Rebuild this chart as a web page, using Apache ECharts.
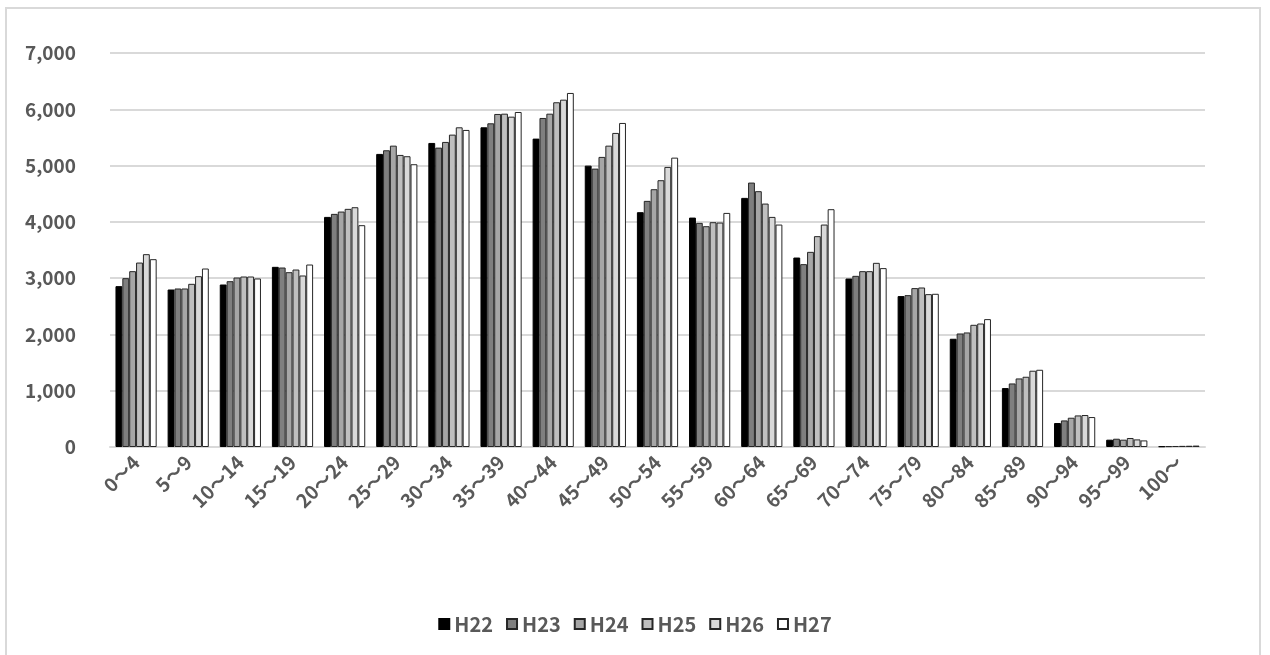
<!DOCTYPE html>
<html>
<head>
<meta charset="utf-8">
<script src="https://cdn.jsdelivr.net/npm/echarts@6/dist/echarts.min.js"></script>
<style>
html,body{margin:0;padding:0;background:#fff;}
#frame{position:absolute;left:5px;top:7px;width:1256px;height:700px;border:2px solid #d9d9d9;box-sizing:border-box;}
#main{position:absolute;left:0;top:0;width:1270px;height:655px;}
</style>
</head>
<body>
<div id="frame"></div>
<div id="main"></div>
<script>
const categories = ['0～4','5～9','10～14','15～19','20～24','25～29','30～34','35～39','40～44','45～49','50～54','55～59','60～64','65～69','70～74','75～79','80～84','85～89','90～94','95～99','100～'];
const seriesNames = ['H22','H23','H24','H25','H26','H27'];
const H22 = [2858,2798,2887,3201,4088,5207,5402,5680,5479,4999,4172,4076,4426,3366,2993,2681,1923,1047,426,130,12];
const H23 = [3000,2816,2946,3189,4142,5272,5319,5751,5846,4946,4373,3982,4698,3249,3041,2698,2017,1129,472,147,15];
const H24 = [3124,2816,3011,3106,4183,5354,5420,5917,5922,5154,4580,3923,4545,3467,3124,2823,2035,1218,520,130,18];
const H25 = [3277,2899,3029,3153,4231,5189,5550,5922,6125,5354,4740,3994,4325,3746,3124,2834,2171,1248,561,160,20];
const H26 = [3426,3035,3029,3047,4260,5166,5680,5869,6171,5580,4976,3988,4088,3952,3272,2716,2194,1355,568,135,22];
const H27 = [3337,3171,2994,3242,3941,5024,5633,5952,6290,5757,5141,4159,3952,4225,3178,2722,2272,1372,532,117,25];
const yTicks = [0,1000,2000,3000,4000,5000,6000,7000];

const allData = [H22,H23,H24,H25,H26,H27];
const colors = ['#000000','#7f7f7f','#a6a6a6','#bfbfbf','#d9d9d9','#ffffff'];
const FONT = '"Noto Sans CJK JP", "Noto Sans", sans-serif';

const chart = echarts.init(document.getElementById('main'));
chart.setOption({
  animation:false,
  backgroundColor:'transparent',
  grid:{left:110,right:65,top:53,bottom:208,containLabel:false},
  legend:{
    bottom:16,left:'center',
    itemWidth:10,itemHeight:10,itemGap:13,
    icon:'rect',
    textStyle:{color:'#595959',fontSize:20,fontWeight:'bold',fontFamily:FONT},
    data:seriesNames
  },
  xAxis:{
    type:'category',data:categories,
    axisLine:{lineStyle:{color:'#d9d9d9',width:2}},
    axisTick:{show:false},
    axisLabel:{rotate:45,interval:0,color:'#595959',fontSize:19,fontWeight:'bold',fontFamily:FONT,margin:12}
  },
  yAxis:{
    type:'value',min:yTicks[0],max:yTicks[yTicks.length-1],interval:1000,
    axisLine:{show:false},axisTick:{show:false},
    splitLine:{lineStyle:{color:'#d9d9d9',width:2}},
    axisLabel:{color:'#595959',fontSize:19,fontWeight:'bold',fontFamily:FONT,margin:34,
      formatter:v=>v.toLocaleString('en-US')}
  },
  series:seriesNames.map((n,i)=>({
    name:n,type:'bar',data:allData[i],
    barGap:'0%',barCategoryGap:'21%',
    itemStyle:{color:colors[i],borderColor:i===0?'#000000':'#262626',borderWidth:1}
  }))
});
</script>
</body>
</html>
